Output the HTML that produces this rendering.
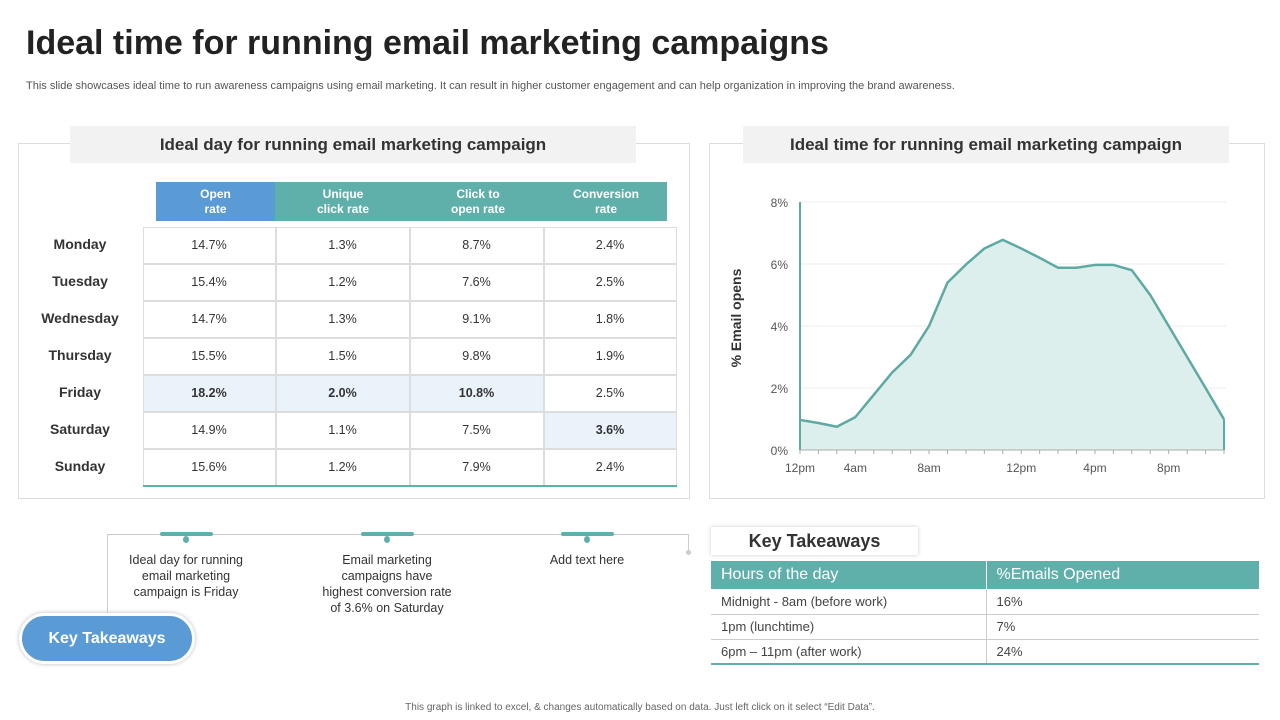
<!DOCTYPE html>
<html><head><meta charset="utf-8"><style>
*{margin:0;padding:0;box-sizing:border-box}
body{width:1280px;height:720px;background:#fff;font-family:"Liberation Sans",sans-serif;position:relative;overflow:hidden;color:#333}
.abs{position:absolute}
.hdr{position:absolute;background:#f2f2f2;font-weight:bold;font-size:17px;color:#333;display:flex;align-items:center;justify-content:center}
.cell{position:absolute;display:flex;align-items:center;justify-content:center;font-size:12.5px;color:#333}
.day{position:absolute;width:120px;text-align:center;font-weight:bold;font-size:14px;color:#333}
.th{position:absolute;color:#fff;font-weight:bold;font-size:12px;text-align:center;display:flex;align-items:center;justify-content:center;line-height:15px}
.kt td{border-bottom:1px solid #ccc;font-size:13px;padding-left:10px;height:25px;color:#444}
</style></head><body>
<div class="abs" style="left:26px;top:24px;font-size:34px;font-weight:bold;color:#222">Ideal time for running email marketing campaigns</div>
<div class="abs" style="left:26px;top:80px;font-size:11px;color:#555">This slide showcases ideal time to run awareness campaigns using email marketing. It can result in higher customer engagement and can help organization in improving the brand awareness.</div>

<div class="abs" style="left:18px;top:143px;width:672px;height:356px;border:1px solid #ddd"></div>
<div class="hdr" style="left:70px;top:126px;width:566px;height:37px">Ideal day for running email marketing campaign</div>
<div class="th" style="left:156px;top:182px;width:119px;height:39px;background:#5b9bd5">Open<br>rate</div>
<div class="th" style="left:275px;top:182px;width:136px;height:39px;background:#5fb0aa">Unique<br>click rate</div>
<div class="th" style="left:411px;top:182px;width:134px;height:39px;background:#5fb0aa">Click to<br>open rate</div>
<div class="th" style="left:545px;top:182px;width:122px;height:39px;background:#5fb0aa">Conversion<br>rate</div>
<div id="tbl"></div>

<div class="abs" style="left:709px;top:143px;width:556px;height:356px;border:1px solid #ddd"></div>
<div class="hdr" style="left:743px;top:126px;width:486px;height:37px">Ideal time for running email marketing campaign</div>
<svg class="abs" style="left:0;top:0" width="1280" height="720" id="chart"></svg>

<div class="abs" style="left:107px;top:534px;width:582px;height:1px;background:#ccc"></div>
<div class="abs" style="left:107px;top:534px;width:1px;height:80px;background:#ccc"></div>
<div class="abs" style="left:688px;top:534px;width:1px;height:18px;background:#ccc"></div>
<div class="abs" style="left:686px;top:550px;width:5px;height:5px;border-radius:50%;background:#ccc"></div>
<div id="tl"></div>

<div class="abs" style="left:19px;top:613px;width:176px;height:51px;border-radius:26px;background:#5b9bd5;border:3px solid #fff;box-shadow:0 0 4px #bbb;color:#fff;font-weight:bold;font-size:16px;display:flex;align-items:center;justify-content:center">Key Takeaways</div>

<div class="abs" style="left:711px;top:527px;width:207px;height:28px;box-shadow:0 0 4px #ccc;font-weight:bold;font-size:18px;display:flex;align-items:center;justify-content:center;color:#333">Key Takeaways</div>
<table class="abs kt" style="left:711px;top:561px;width:548px;border-collapse:collapse">
<tr style="background:#5fb0aa;color:#fff"><td style="height:28px;color:#fff;font-size:16px;width:275px;border-right:1px solid #fff;border-bottom:none">Hours of the day</td><td style="color:#fff;font-size:16px;border-bottom:none">%Emails Opened</td></tr>
<tr><td style="border-right:1px solid #ccc">Midnight -  8am (before  work)</td><td>16%</td></tr>
<tr><td style="border-right:1px solid #ccc">1pm (lunchtime)</td><td>7%</td></tr>
<tr><td style="border-right:1px solid #ccc;border-bottom:2px solid #5fb0aa">6pm – 11pm (after work)</td><td style="border-bottom:2px solid #5fb0aa">24%</td></tr>
</table>
<div class="abs" style="left:0;top:702px;width:1280px;text-align:center;font-size:10px;color:#666">This graph is linked to excel, &amp; changes automatically based on data. Just left click on it select “Edit Data”.</div>

<script>
const days=["Monday","Tuesday","Wednesday","Thursday","Friday","Saturday","Sunday"];
const openRate=["14.7%","15.4%","14.7%","15.5%","18.2%","14.9%","15.6%"];
const uniqueClick=["1.3%","1.2%","1.3%","1.5%","2.0%","1.1%","1.2%"];
const clickOpen=["8.7%","7.6%","9.1%","9.8%","10.8%","7.5%","7.9%"];
const conversion=["2.4%","2.5%","1.8%","1.9%","2.5%","3.6%","2.4%"];
const hours=["12am","1am","2am","3am","4am","5am","6am","7am","8am","9am","10am","11am","12pm","1pm","2pm","3pm","4pm","5pm","6pm","7pm","8pm","9pm","10pm","11pm"];
const opens=[0.97,0.87,0.75,1.06,1.78,2.5,3.07,4.0,5.4,5.98,6.5,6.78,6.5,6.2,5.88,5.88,5.97,5.97,5.8,5.0,4.0,3.0,2.0,0.99];
const yTicks=[0,2,4,6,8];
const xTickIdx=[0,3,7,12,16,20];
const xTickLabels=["12pm","4am","8am","12pm","4pm","8pm"];
const takeaways=["Ideal day for running<br>email marketing<br>campaign is Friday","Email marketing<br>campaigns have<br>highest conversion  rate<br>of 3.6% on Saturday","Add text here"];

const tbl=document.getElementById('tbl');
const colX=[143,276,410,544,677],rowY=227,rowH=37;
const cols=[openRate,uniqueClick,clickOpen,conversion];
days.forEach((d,i)=>{
  const dl=document.createElement('div');dl.className='day';
  
  
  dl.style.left='20px';dl.style.top=(rowY+i*rowH+9)+'px';dl.textContent=d;tbl.appendChild(dl);
  cols.forEach((c,j)=>{
    const e=document.createElement('div');e.className='cell';
    
    
    const hl=(i===4&&j<3)||(i===5&&j===3);
    e.style.cssText+=`left:${colX[j]}px;top:${rowY+i*rowH}px;width:${colX[j+1]-colX[j]}px;height:${rowH}px;border:1px solid #ddd;margin:-0.5px;`+(hl?'background:#eaf2fa;font-weight:bold;':'');
    e.textContent=c[i];tbl.appendChild(e);
  });
});
const bl=document.createElement('div');bl.className='abs';


bl.style.cssText='left:143px;top:485px;width:534px;height:2px;background:#5fb0aa';tbl.appendChild(bl);

const tl=document.getElementById('tl');
[186,387,587].forEach((x,i)=>{
  const b=document.createElement('div');b.className='abs';
  
  
  b.style.cssText=`left:${x-26}px;top:532px;width:53px;height:4px;border-radius:2px;background:#5fb0aa`;tl.appendChild(b);
  const d=document.createElement('div');d.className='abs';
  
  
  d.style.cssText=`left:${x-3}px;top:536px;width:6px;height:7px;border-radius:50%;background:#5fb0aa`;tl.appendChild(d);
  const t=document.createElement('div');t.className='abs';
  
  
  t.style.cssText=`left:${x-90}px;top:552px;width:180px;text-align:center;font-size:12.5px;line-height:16px;color:#333`;t.innerHTML=takeaways[i];tl.appendChild(t);
});

const svg=document.getElementById('chart');const NS='http://www.w3.org/2000/svg';
const x0=800,x1=1224,y0=450,y8=202;
const xs=i=>x0+(x1-x0)*i/(hours.length-1);
const ys=v=>y0-(y0-y8)*v/8;
function mk(t,a,name){const e=document.createElementNS(NS,t);for(const k in a)e.setAttribute(k,a[k]);
  
  
  svg.appendChild(e);return e;}
yTicks.forEach(v=>{
  if(v>0)mk('line',{x1:x0,x2:1226,y1:ys(v),y2:ys(v),stroke:'#eee'},'gridline');
  const t=mk('text',{x:788,y:ys(v)+5,'text-anchor':'end','font-size':12,fill:'#555','font-family':'Liberation Sans'},'y-tick-label');t.textContent=v+'%';
});
let pts=opens.map((v,i)=>xs(i)+','+ys(v)).join(' ');
mk('polygon',{points:`${x0},${y0} ${pts} ${x1},${y0}`,fill:'#ddefed'},'area-fill');
mk('polyline',{points:pts,fill:'none',stroke:'#5fa9a3','stroke-width':2.5,'stroke-linejoin':'round'},'area-line');
mk('line',{x1:x0,x2:x0,y1:y8,y2:y0,stroke:'#5fa9a3','stroke-width':2},'left-edge');
mk('line',{x1:x1,x2:x1,y1:ys(opens[opens.length-1]),y2:y0,stroke:'#5fa9a3','stroke-width':2},'right-edge');
mk('line',{x1:x0,x2:x1,y1:y0,y2:y0,stroke:'#aaa'},'x-axis');
hours.forEach((h,i)=>mk('line',{x1:xs(i),x2:xs(i),y1:y0,y2:y0+4,stroke:'#aaa'},'x-tick'));
xTickIdx.forEach((idx,k)=>{const t=mk('text',{x:xs(idx),y:472,'text-anchor':'middle','font-size':12,fill:'#555','font-family':'Liberation Sans'},'x-tick-label');t.textContent=xTickLabels[k];});
const yt=mk('text',{x:0,y:0,transform:'translate(741,318) rotate(-90)','text-anchor':'middle','font-size':14,'font-weight':'bold',fill:'#333','font-family':'Liberation Sans'},'y-axis-title');yt.textContent='% Email opens';
</script>
</body></html>
